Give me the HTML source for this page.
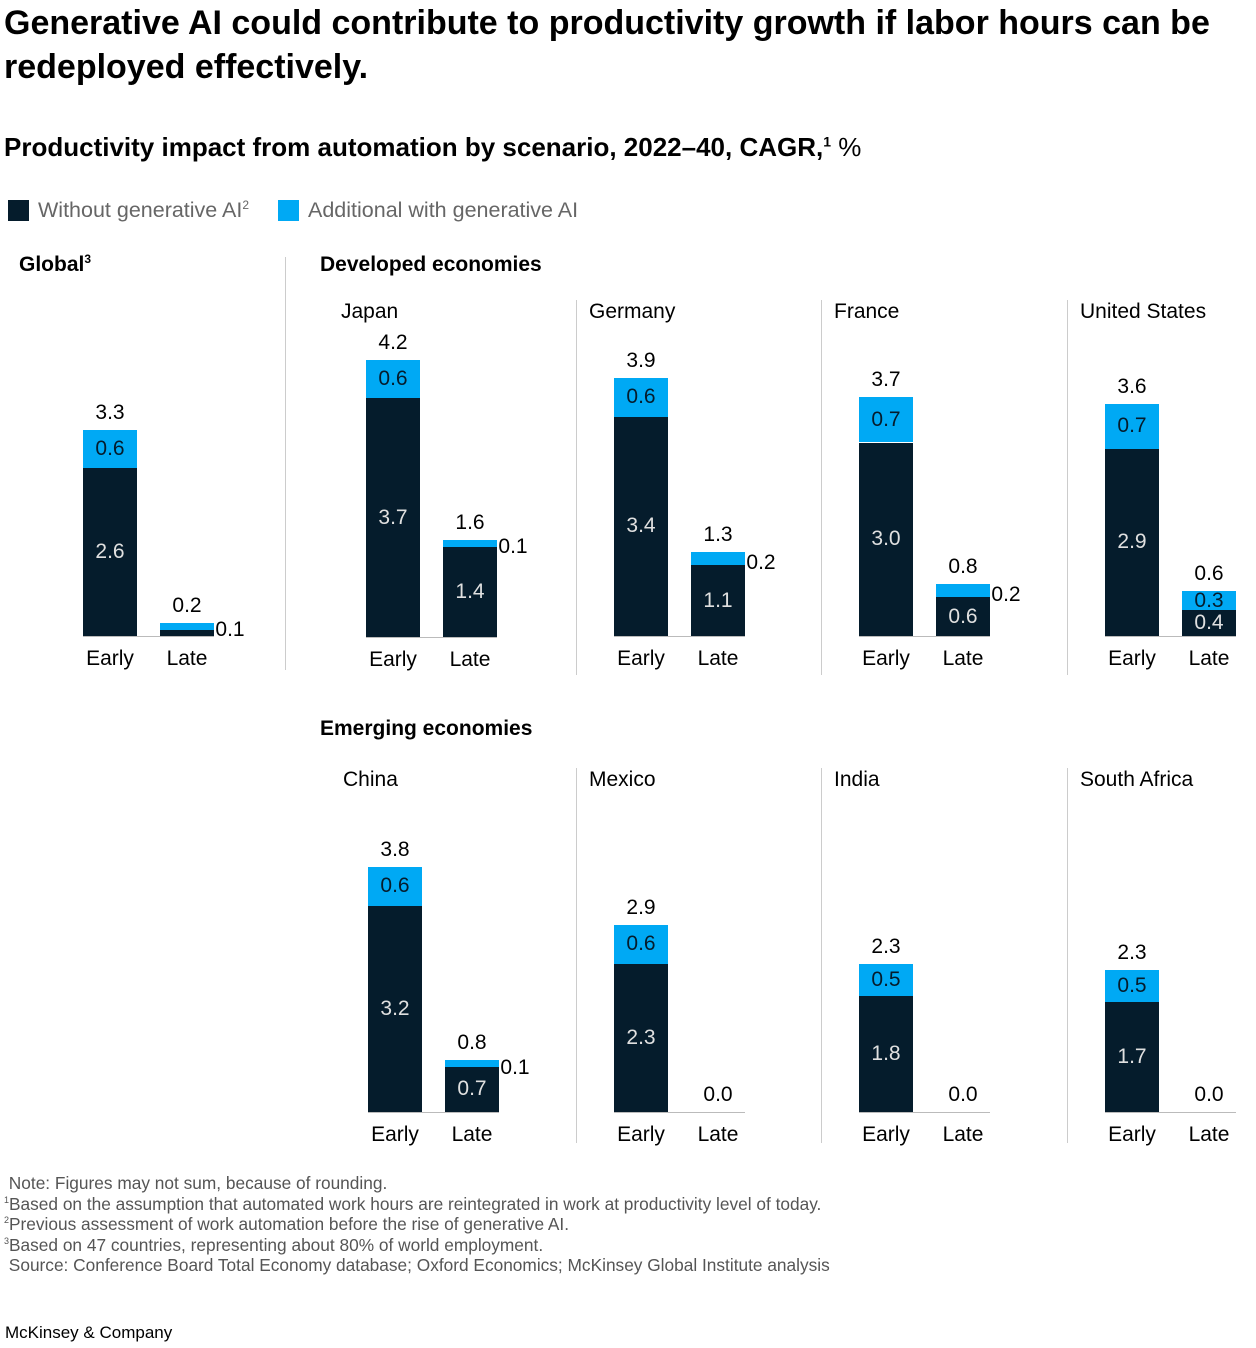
<!DOCTYPE html>
<html><head><meta charset="utf-8">
<style>
body{margin:0;background:#fff;font-family:"Liberation Sans",sans-serif;color:#000;}
#root{position:relative;width:1256px;height:1348px;overflow:hidden;}
.t{position:absolute;white-space:nowrap;}
sup{line-height:0;}
</style></head>
<body>
<div id="root">
<div class="t" style="left:4px;top:1px;font-size:34px;font-weight:bold;line-height:44px;width:1252px;white-space:normal;">Generative AI could contribute to productivity growth if labor hours can be redeployed effectively.</div>
<div class="t" style="left:4px;top:132px;font-size:26px;font-weight:bold;">Productivity impact from automation by scenario, 2022–40, CAGR,<sup style="font-size:14px">1</sup> <span style="font-weight:normal">%</span></div>
<div style="position:absolute;left:8px;top:200px;width:21px;height:21px;background:#051C2C"></div>
<div class="t" style="left:38px;top:198px;font-size:21.5px;color:#666;">Without generative AI<sup style="font-size:12px">2</sup></div>
<div style="position:absolute;left:278px;top:200px;width:21px;height:21px;background:#00A9F4"></div>
<div class="t" style="left:308px;top:198px;font-size:21.5px;color:#666;">Additional with generative AI</div>
<div class="t" style="left:320px;top:253px;font-size:21px;font-weight:bold;">Developed economies</div>
<div class="t" style="left:320px;top:717px;font-size:21px;font-weight:bold;">Emerging economies</div>
<div class="t" style="left:4px;top:1173px;font-size:17.3px;line-height:20.5px;color:#555;">
&nbsp;Note: Figures may not sum, because of rounding.<br>
<sup style="font-size:9px">1</sup>Based on the assumption that automated work hours are reintegrated in work at productivity level of today.<br>
<sup style="font-size:9px">2</sup>Previous assessment of work automation before the rise of generative AI.<br>
<sup style="font-size:9px">3</sup>Based on 47 countries, representing about 80% of world employment.<br>
&nbsp;Source: Conference Board Total Economy database; Oxford Economics; McKinsey Global Institute analysis</div>
<div class="t" style="left:5px;top:1323px;font-size:17px;">McKinsey &amp; Company</div>
</div>
<script>
const panelNames=["Global","Japan","Germany","France","United States","China","Mexico","India","South Africa"];
const earlyDark=[2.6,3.7,3.4,3.0,2.9,3.2,2.3,1.8,1.7];
const earlyLight=[0.6,0.6,0.6,0.7,0.7,0.6,0.6,0.5,0.5];
const earlyTotal=["3.3","4.2","3.9","3.7","3.6","3.8","2.9","2.3","2.3"];
const lateDark=[0.1,1.4,1.1,0.6,0.4,0.7,0.0,0.0,0.0];
const lateLight=[0.1,0.1,0.2,0.2,0.3,0.1,0.0,0.0,0.0];
const lateTotal=["0.2","1.6","1.3","0.8","0.6","0.8","0.0","0.0","0.0"];
const darkLabels=["2.6","3.7","3.4","3.0","2.9","3.2","2.3","1.8","1.7"];
const lateDarkLabels=["0.1","1.4","1.1","0.6","0.4","0.7","0.0","0.0","0.0"];
const lateLightLabels=["0.1","0.1","0.2","0.2","0.3","0.1","0.0","0.0","0.0"];
const earlyLightLabels=["0.6","0.6","0.6","0.7","0.7","0.6","0.6","0.5","0.5"];
const categories=["Early","Late"];
const layout=[{x:83,base:636,ny:253},{x:366,base:637,ny:300},{x:614,base:636,ny:300},{x:859,base:636,ny:300},{x:1105,base:636,ny:300},
{x:368,base:1112,ny:768},{x:614,base:1112,ny:768},{x:859,base:1112,ny:768},{x:1105,base:1112,ny:768}];
const PX=64.5, BW=54, GAP=77;
const yScale=v=>v*PX;
const root=document.getElementById('root');
function div(css,text){const d=document.createElement('div');d.style.cssText='position:absolute;'+css;if(text!==undefined)d.textContent=text;root.appendChild(d);return d;}
function label(cx,cy,txt,color){const d=div(`left:${cx-40}px;top:${cy-13}px;width:80px;text-align:center;font-size:21px;line-height:26px;color:${color};`,txt);return d;}
[[285,257,670],[576,300,675],[821,300,675],[1067,300,675],[576,768,1143],[821,768,1143],[1067,768,1143]].forEach(s=>{
 const d=div(`left:${s[0]}px;top:${s[1]}px;width:1px;height:${s[2]-s[1]}px;background:#ccc;`);
 
 
});
panelNames.forEach((name,i)=>{
 const L=layout[i];
 const key=name.toLowerCase().replace(/ /g,'-');
 const n=div(`left:${i==0?19:L.x-25}px;top:${L.ny}px;font-size:21px;${i==0?'font-weight:bold;':''}white-space:nowrap;`);
 n.innerHTML=name+(i==0?'<sup style="font-size:12px">3</sup>':'');
 
 
 const bl=div(`left:${L.x}px;top:${L.base}px;width:${BW+GAP}px;height:1px;background:#bbb;`);
 
 
 const bars=[[earlyDark[i],earlyLight[i],earlyTotal[i],darkLabels[i],earlyLightLabels[i]],[lateDark[i],lateLight[i],lateTotal[i],lateDarkLabels[i],lateLightLabels[i]]];
 bars.forEach((b,j)=>{
  const x=L.x+j*GAP, cx=x+BW/2;
  const hd=yScale(b[0]), hl=yScale(b[1]);
  const top=L.base-hd-hl;
  if(hd>0){const d=div(`left:${x}px;top:${L.base-hd}px;width:${BW}px;height:${hd}px;background:#051C2C;`);
   
   
   if(hd>20){const t=label(cx,L.base-hd/2,b[3],'#e0e0e0');
    
    }}
  if(hl>0){const d=div(`left:${x}px;top:${top}px;width:${BW}px;height:${hl}px;background:#00A9F4;`);
   
   
   const t=hl>16?label(cx,top+hl/2,b[4],'#051C2C'):label(x+BW+16,top+hl/2+4,b[4],'#000');
   
   }
  const tt=label(cx,top-17,b[2],'#000');
  
  
  const c=label(cx,L.base+23,categories[j],'#000');
  
  
 });
});
</script>
</body></html>
